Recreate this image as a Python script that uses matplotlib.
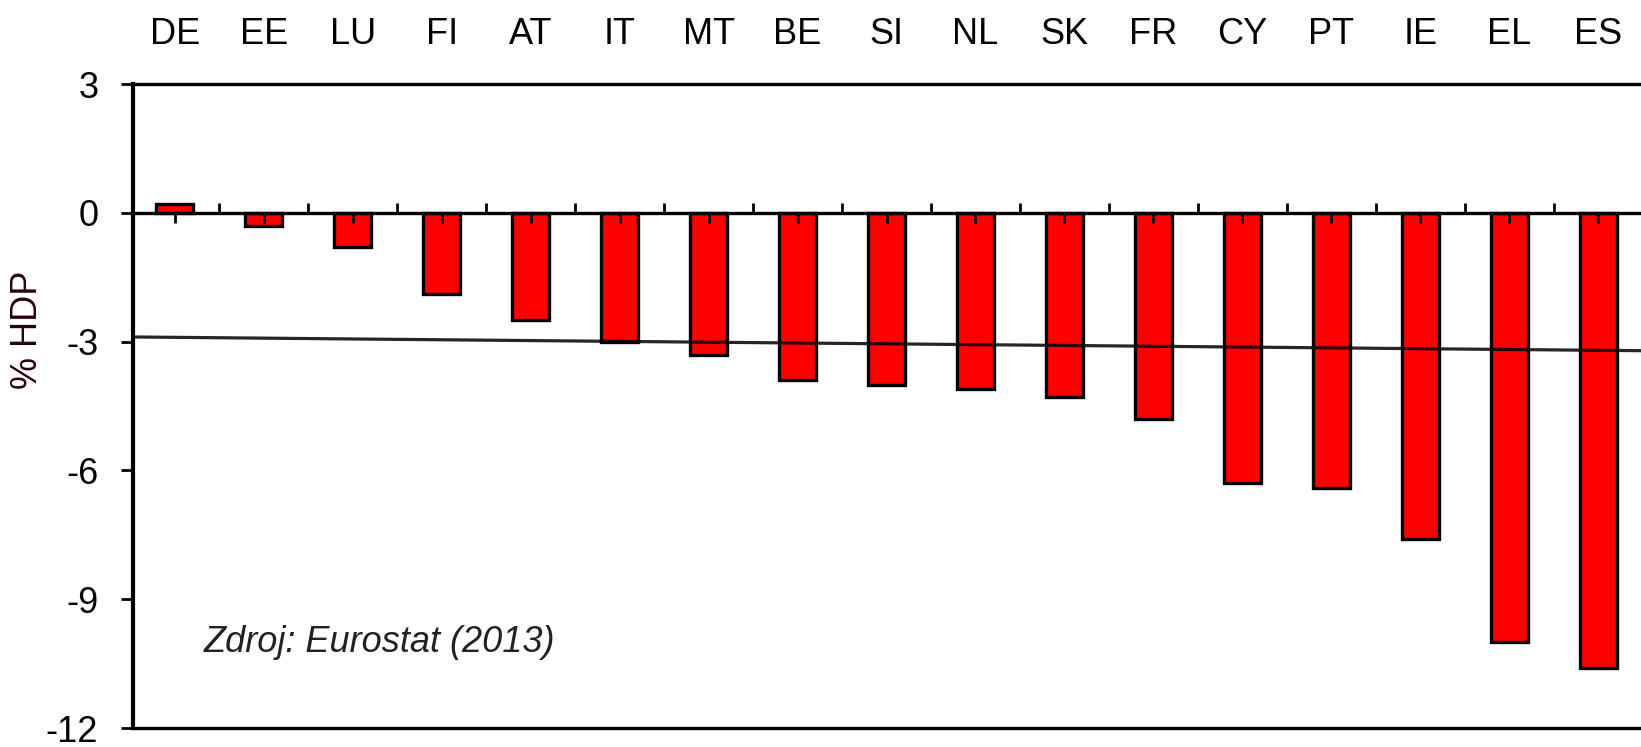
import matplotlib.pyplot as plt
import numpy as np

plt.rcParams['font.family'] = ['Liberation Sans', 'DejaVu Sans']

# saldo verejnych financii 2012, % HDP
countries = ['DE', 'EE', 'LU', 'FI', 'AT', 'IT', 'MT', 'BE', 'SI', 'NL',
             'SK', 'FR', 'CY', 'PT', 'IE', 'EL', 'ES']
deficit = [0.2, -0.3, -0.8, -1.9, -2.5, -3.0, -3.3, -3.9, -4.0, -4.1,
           -4.3, -4.8, -6.3, -6.4, -7.6, -10.0, -10.6]
# vodorovna referencna ciara (hodnota na lavom a pravom okraji)
ref_line = [-2.89, -3.21]
yticks = [3, 0, -3, -6, -9, -12]

fig = plt.figure(figsize=(16.41, 7.47), dpi=100)
ax = fig.add_axes([0.081, 0.0254, 0.919, 0.862])
ax2 = ax.twiny()

x = np.arange(len(countries))
xlim = (-0.47, len(countries) - 0.52)

ax.bar(x, deficit, width=0.42, color='#ff0000', edgecolor='black',
       linewidth=2.4, zorder=2)
ax.plot(xlim, ref_line, color='black', linewidth=2.3, alpha=0.85, zorder=3)

ax.set_xlim(xlim)
ax.set_ylim(-12, 3)

# kategorie hore
ax.xaxis.tick_top()
ax.set_xticks(x)
ax.set_xticklabels(countries, fontsize=26, color='black')
ax.tick_params(axis='x', which='both', length=0, pad=23,
               labeltop=True, labelbottom=False, top=False, bottom=False)

ax.set_yticks(yticks)
ax.set_yticklabels([str(v) for v in yticks], fontsize=26)
ax.tick_params(axis='y', length=9, width=2, pad=16)
ax.set_ylabel('% HDP', fontsize=26, color='#2a0010')
ax.yaxis.set_label_coords(-0.058, 0.618)

for s in ['top', 'bottom']:
    ax.spines[s].set_linewidth(2.4)
ax.spines['left'].set_linewidth(3)
ax.spines['right'].set_visible(False)

# os kategorii na nule
ax2.set_xlim(xlim)
for s in ['left', 'top', 'right']:
    ax2.spines[s].set_visible(False)
ax2.spines['bottom'].set_position(('data', 0))
ax2.spines['bottom'].set_linewidth(2.4)
ax2.spines['bottom'].set_zorder(4)
ax2.xaxis.set_ticks_position('bottom')
ax2.set_xticks(x[:-1] + 0.5)
ax2.set_xticks(x, minor=True)
ax2.tick_params(axis='x', which='major', direction='in', length=7, width=2,
                labelbottom=False, labeltop=False, top=False)
ax2.tick_params(axis='x', which='minor', direction='out', length=7, width=2,
                labelbottom=False, labeltop=False, top=False)

ax.text(0.047, 0.118, 'Zdroj: Eurostat (2013)', transform=ax.transAxes,
        fontsize=26, style='italic', color='#222222')

plt.savefig('out.png', dpi=100)
